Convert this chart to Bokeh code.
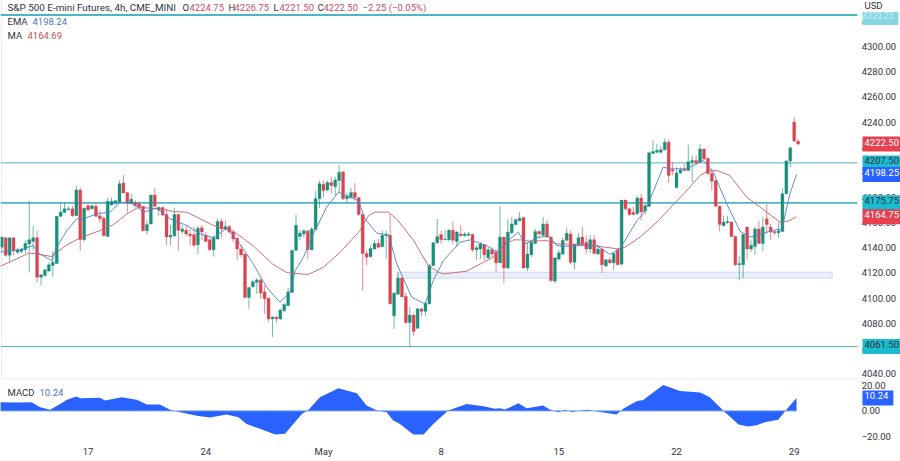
from bokeh.plotting import figure
from bokeh.models import ColumnDataSource, FixedTicker, Label, Span, BoxAnnotation
from bokeh.layouts import column
from bokeh.embed import file_html
from bokeh.resources import INLINE

candle_open = [
4140.5,4148,4134,4148,4136.5,4137,4138.5,4143,4145,4148,
4116.5,4118,4121.5,4126,4127.5,4165,4168,4170.5,4171,4165.5,
4186,4146.5,4173.5,4171,4173,4165.5,4163.5,4149,4174,4175.5,
4176,4191.5,4184,4175.5,4176,4175,4173,4153.5,4159,4182,
4170,4172,4166.5,4148.5,4149.5,4166.5,4153,4154,4151,4150.5,
4142.5,4156,4150,4146.5,4138.5,4147,4161,4155,4157,4152.5,
4147.5,4139,4135,4100.5,4109,4112.5,4114.5,4105,4100,4083.5,
4085,4083.5,4090,4094,4104.5,4138,4149,4151,4153.5,4138.5,
4154.5,4179,4190.5,4186,4192,4188.5,4193.5,4200.5,4179,4180,
4184,4180,4166.5,4135.5,4133,4139,4143.5,4141,4149.5,4150,
4086,4103,4116,4101.5,4080.5,4086.5,4076,4091.5,4089.5,4095.5,
4126,4144,4150.5,4146.5,4146.5,4154,4145,4151,4149.5,4150,
4150.5,4138.5,4139,4142.5,4132,4138.5,4136.5,4128,4148.5,4124,
4152,4158.5,4161.5,4164,4124,4134.5,4143.5,4153,4150,4159,
4148.5,4113.5,4131,4135,4146,4151,4128.5,4142.5,4148.5,4144.5,
4139,4146.5,4135,4139,4125.5,4130.5,4128,4138.5,4127,4178,
4171,4168,4167,4179.5,4169,4173,4215,4216,4216,4218,
4224,4202,4188,4199.5,4202.5,4201.5,4208,4209.5,4208,4218.5,
4211,4199,4193.5,4173,4157.5,4160,4160.5,4149,4126.5,4126.5,
4156.5,4139,4141,4155,4143.5,4163,4156.5,4153,4152,4153,
4183,4209,4240,4224.75]
candle_high = [
4148.5,4148,4148,4148,4140,4140,4146,4177.5,4157.5,4153.5,
4119,4123,4128.5,4137.5,4165,4176,4176,4173,4173.5,4189.5,
4188,4172,4175,4174.5,4176,4169.5,4165,4180,4180,4178,
4193.5,4198,4184,4183,4178,4177,4173,4161.5,4182,4187.5,
4173,4173,4171,4158,4172,4166.5,4158,4158,4155,4156.5,
4157,4158,4152.5,4148,4150,4163,4163,4161.5,4158,4154,
4149,4142,4135,4109,4114.5,4116,4115.5,4110,4100,4085.5,
4085.5,4091.5,4096,4108,4138,4166.5,4154,4155,4153.5,4156.5,
4185.5,4193.5,4193.5,4193.5,4196.5,4196.5,4206,4200.5,4184,4187.5,
4191.5,4180,4167,4138,4142,4146,4147,4153.5,4153.5,4167,
4104.5,4120.5,4116.5,4104.5,4093,4087.5,4092,4092,4097,4127,
4144.5,4163,4153.5,4154,4155,4161,4153.5,4158,4152.5,4152.5,
4151,4142,4144.5,4143,4140,4140.5,4139,4173,4148.5,4163,
4164.5,4163,4168.5,4164.5,4144.5,4146,4155,4154,4164.5,4162,
4149,4132.5,4138.5,4148,4156,4154,4143.5,4151.5,4156.5,4150,
4150,4150,4142.5,4139,4131,4132.5,4136.5,4139,4178,4178,
4172,4172.5,4181.5,4183,4175,4216,4225.5,4222.5,4221.5,4227,
4226,4208,4204,4204,4207,4222,4213.5,4213.5,4222.5,4218.5,
4212,4203,4194,4173.5,4165.5,4165.5,4161,4150,4134,4151,
4157,4146,4156.5,4161.5,4164.5,4175,4159,4153.5,4160.5,4187.5,
4209.5,4220.5,4244,4226.75]
candle_low = [
4136.5,4133,4128.5,4134,4135,4135.5,4135.5,4120.5,4138,4112.5,
4110,4117,4120.5,4117,4127,4164.5,4168,4169.5,4164.5,4165.5,
4137.5,4145,4169,4170.5,4164.5,4159.5,4149,4149,4173.5,4174.5,
4176,4183.5,4168.5,4175,4172,4171,4153,4150.5,4158.5,4172.5,
4165.5,4165,4142,4142,4148.5,4137.5,4151,4149,4142,4140.5,
4135,4146,4144.5,4137.5,4133,4146.5,4148,4154,4151,4144.5,
4130,4132.5,4100,4091.5,4108.5,4103.5,4099.5,4087.5,4081,4069,
4080,4082.5,4089,4094,4104,4137.5,4146,4148,4131,4138,
4154.5,4171.5,4180,4185,4183,4181.5,4184,4178,4176,4179,
4177.5,4165.5,4106,4126,4132,4138.5,4139.5,4140.5,4131,4095,
4075.5,4103,4100.5,4079.5,4061.5,4070,4075.5,4085.5,4086,4095,
4125.5,4143,4143,4146,4145,4143,4140.5,4149,4149,4149,
4136.5,4130.5,4131,4130,4131,4132.5,4120.5,4128,4112,4123,
4151,4158,4161,4123,4121.5,4132.5,4143,4148,4149,4148,
4112.5,4112,4130,4134.5,4145,4127,4123,4142,4142,4135,
4135.5,4134.5,4134.5,4120,4125,4127.5,4122,4126,4126,4170,
4165.5,4166,4166.5,4161.5,4167,4172.5,4214.5,4215,4215,4217.5,
4191.5,4197.5,4187,4198.5,4201,4201,4192,4206,4207.5,4209.5,
4197.5,4185.5,4172.5,4153,4157,4159,4148.5,4125.5,4114,4116,
4130.5,4136.5,4134.5,4143,4137.5,4151,4146.5,4150,4148,4152.5,
4182.5,4204,4224,4221.5]
candle_close = [
4148.5,4134,4148,4138,4138.5,4139,4143.5,4146.5,4148,4116.5,
4118.5,4122.5,4126.5,4128.5,4165,4168.5,4171,4171,4165.5,4186,
4146.5,4171.5,4170,4173.5,4165,4163,4149.5,4177,4177,4177.5,
4191,4183.5,4176,4178.5,4173.5,4172.5,4153.5,4158.5,4182,4173,
4172,4166,4148.5,4150,4166.5,4154,4155,4151,4149.5,4142,
4155.5,4152.5,4145,4138.5,4148,4161,4155,4157,4152.5,4147,
4139,4134.5,4100.5,4108.5,4113,4114.5,4104,4099.5,4083.5,4085,
4083.5,4090.5,4095,4105,4138,4158,4151.5,4153.5,4138.5,4155,
4179,4191,4185.5,4192,4189.5,4194,4200,4179,4181,4184,
4180,4166.5,4135.5,4132.5,4139.5,4143.5,4140.5,4150,4150.5,4095.5,
4104,4116,4101,4080.5,4086.5,4073.5,4091.5,4089.5,4096,4126,
4144,4149,4146.5,4147,4154,4146,4152.5,4149.5,4151,4151,
4138.5,4140,4143,4134.5,4138.5,4135,4128,4148.5,4124,4152.5,
4159,4162.5,4163.5,4124,4135,4144.5,4153,4151,4159,4148.5,
4114,4132,4136,4146,4151.5,4128.5,4143,4148,4143,4139,
4146.5,4135.5,4139,4126.5,4130.5,4128,4135.5,4126.5,4178,4171,
4166.5,4166.5,4179.5,4168.5,4173.5,4215.5,4216.5,4217.5,4218,4224,
4197.5,4201,4199.5,4202,4201.5,4208.5,4209.5,4207.5,4218.5,4210.5,
4199,4193,4173,4158.5,4160.5,4161,4149,4126.5,4127.5,4150.5,
4139,4142,4155,4143.5,4156.5,4158.5,4152.5,4152,4153.5,4183,
4209,4219.5,4225,4222.5]

ma_t = [-0.4,3.8,6.8,8.9,12.7,14,16.6,20,25,28.5,31.9,34.8,37,40.4,43.8,47.2,50.6,54,59,64,69,72.6,
        78,82,86.7,91.3,93.5,95.2,98.6,101,105,108.7,111.3,112.6,118.5,122,125.3,128,130.4,132.5,134.7,138.9,141.5,
        147.4,151.7,157,158.9,162.7,167,171,175,178,180,182.2,185.6,189.9,195,198.4,200.5,202.6]
ma_v = [4125.3,4131.2,4135.7,4135.2,4133,4136.5,4142.3,4147.9,4153.7,4158.5,4167,4172.2,4171.7,4171,4168.8,4168.3,4163,4157.7,4153.2,4141.8,4127.2,4120.3,
        4118.7,4124.5,4137.8,4153.7,4165.6,4168.5,4168.3,4161.7,4145.8,4125.9,4120.6,4119.2,4121.4,4127.2,4132.5,4141.8,4146.3,4146.3,4145.2,4145.8,4143.1,
        4142.6,4141.3,4139.2,4140.5,4148.5,4160.4,4173.6,4186.9,4197.5,4200.9,4201.5,4197.5,4180.3,4168.3,4160.4,4161.2,4164.69]
ema_t = [-0.4,4.7,8,9.6,12.7,14,16.6,19.1,20.8,24.2,27.6,30.2,33.6,36.1,39.5,42.9,47.2,50.6,54,57.4,60.7,64.1,67.5,70.9,73.5,74.8,76.9,
         79.4,82.8,85.8,90.9,92.6,95.6,98.6,100.7,104.5,107.9,110,112.6,116.8,119.4,123.6,126.2,129.6,131.7,133.4,136.4,139.3,141.5,144.9,
         147.4,151.7,155,157.6,161.9,163.5,164.8,168.6,170.3,174.6,178.8,181.4,184.8,188.2,190.7,194.1,198,198.8,200.9,202.6]
ema_v = [4136.5,4138.3,4141.8,4135.2,4129.9,4140.4,4153.7,4163,4163,4167,4168.3,4176.2,4174.9,4168.3,4171.7,4163,4157.7,4151,4147.9,4155.8,4143.1,4127.2,4108.7,4096.7,4104.7,4121.9,4132.5,
         4151,4172.2,4184.2,4177.5,4163,4151.6,4150.3,4127.2,4100.7,4095.4,4114,4129.9,4144.4,4146.3,4141.8,4136.5,4147,4152.4,4143.1,4147.9,4149.7,4141.8,4141,
         4141.8,4141.8,4134.7,4139.2,4161.7,4167,4175,4204.1,4202.8,4202.8,4209.4,4200.1,4175,4153.2,4148.5,4151.6,4155,4153.8,4182.9,4198.24]
macd_t = [-0.4,3.8,7.6,9.8,12.3,14.9,16.6,19,20,25,26.3,30.6,34.4,37,40.3,42.9,45.5,49.7,53.1,57.3,60.3,62.4,65.8,69.7,72.2,74.3,76.5,78.2,81.1,85.8,90.5,93,95.6,98.1,99.8,101.5,104.9,107.5,110,113.8,
          118.5,122.8,125.7,127,128.3,131.7,133.8,138,139.8,141.9,143.6,145.3,149.1,152.5,156.7,158.4,161.8,163.5,168.6,172.9,178,180.5,183.9,187.8,190.3,192.4,194.5,197.9,200,202.6]
macd_v = [6.8,6.6,6.8,2.9,0.8,5.5,8.9,11.3,10,10.3,8.2,10.8,8.9,5,5,0.8,-1.1,-3.9,-5.3,-2.9,-5,-10.3,-14.2,-18.7,-18.1,-10.3,-2.4,0.8,10.8,17.9,13.9,4.2,0.3,-1.1,-7.6,-10.3,-18.7,-18.7,-10.3,0.3,
          5.5,3.7,1.6,2.1,1.1,6,2.1,4.2,0.8,-1.1,0.8,-0.8,0.8,-0.8,-2.9,1.6,7.6,8.7,20.5,15.8,14.5,10.8,0.3,-10.8,-12.4,-11.3,-8.9,-7.1,0.8,10.24]

price_ticks = [4040,4060,4080,4100,4120,4140,4160,4180,4200,4220,4240,4260,4280,4300,4320]
macd_ticks = [-20,0,20]
date_ticks = [22,52,82,112,142,172,202]
date_labels = ["17","24","May","8","15","22","29"]
level_lines = [4325,4207.5,4175.75,4061.5]
level_widths = [2,1,1.6,1]
zone_top, zone_bottom = 4120.6, 4115.8
zone_start, zone_end = 100.9, 211.7

UP, DOWN = "#1a8f79", "#db4350"
TEAL = "#4cb6c2"
FONT = "Roboto"
TXT = "#2f333d"
X0, X_PANE, X_LABELS, X1 = -0.33, 218.1, 219.2, 229.1

n = len(candle_close)
t = list(range(n))
src = ColumnDataSource(dict(
    t=t, o=candle_open, h=candle_high, l=candle_low, c=candle_close,
    top=[max(a, b) for a, b in zip(candle_open, candle_close)],
    bot=[min(a, b) for a, b in zip(candle_open, candle_close)],
    col=[UP if b >= a else DOWN for a, b in zip(candle_open, candle_close)],
))

def base(height, ticks, overrides, **kw):
    f = figure(width=900, height=height, output_backend="svg", toolbar_location=None,
               x_range=(X0, X1), y_axis_location="right", min_border=0, **kw)
    f.grid.visible = False
    f.outline_line_color = None
    ax = f.yaxis[0]
    ax.fixed_location = X_LABELS
    ax.ticker = FixedTicker(ticks=ticks)
    ax.major_label_overrides = overrides
    ax.axis_line_color = None
    ax.major_tick_line_color = None
    ax.minor_tick_line_color = None
    ax.major_tick_in = 0
    ax.major_tick_out = 0
    ax.minor_tick_in = 0
    ax.minor_tick_out = 0
    ax.major_label_text_font = FONT
    ax.major_label_text_font_size = "9.5px"
    ax.major_label_text_color = TXT
    ax.major_label_standoff = 0
    return f

main = base(378, price_ticks, {v: f"{v:.2f}" for v in price_ticks}, y_range=(4036.1, 4336.6))
main.xaxis.visible = False

main.add_layout(BoxAnnotation(left=zone_start, right=zone_end, top=zone_top, bottom=zone_bottom,
                              fill_color="#eaf0fb", fill_alpha=1, line_color="#7f8fc8", line_width=1, level="underlay"))
main.segment([X0]*len(level_lines), level_lines, [X_PANE]*len(level_lines), level_lines,
             line_color=TEAL, line_width=level_widths)
main.add_layout(Span(location=X0 + 0.2, dimension="height", line_color="#e6e8ee", line_width=1, level="underlay"))

main.segment("t", "h", "t", "l", source=src, line_color="col", line_width=0.9, line_alpha=0.7)
main.vbar("t", 0.76, "top", "bot", source=src, fill_color="col", line_color="col", line_width=0.3)
main.line(ma_t, ma_v, line_color="#c9616c", line_width=1, line_alpha=0.9)
main.line(ema_t, ema_v, line_color="#4f7fc9", line_width=1, line_alpha=0.9)

def tag(f, value, text, bg, fg, size="9.5px", pad=(2, 5, 2, 6)):
    f.add_layout(Label(x=862, y=value, x_units="screen", y_units="data", text=text,
                       text_font=FONT, text_font_size=size, text_color=fg,
                       text_align="left", text_baseline="middle",
                       background_fill_color=bg, padding=pad))

def legend(f, x, y, text, color, size="9.5px"):
    f.add_layout(Label(x=x, y=y, x_units="screen", y_units="screen", text=text,
                       text_font=FONT, text_font_size=size, text_color=color,
                       text_align="left", text_baseline="middle"))

tag(main, 4322.3, "4329.25", "#86d7e2", "#c9eef3", size="8.5px", pad=(0, 5, 0, 6))
tag(main, 4222.5, "4222.50", "#e8404f", "#ffffff")
tag(main, 4207.5, "4207.50", "#19bcd0", "#2a2e39")
tag(main, 4198.25, "4198.25", "#2962ff", "#ffffff")
tag(main, 4175.75, "4175.75", "#19bcd0", "#2a2e39")
tag(main, 4164.75, "4164.75", "#e8404f", "#ffffff")
tag(main, 4061.5, "4061.50", "#19bcd0", "#2a2e39")

H = 378
RED = "#c7505f"
legend(main, 7, H-7, "S&P 500 E-mini Futures, 4h, CME_MINI", TXT, size="9.9px")
legend(main, 182, H-7, "O", TXT); legend(main, 189, H-7, "4224.75", RED)
legend(main, 228, H-7, "H", TXT); legend(main, 234, H-7, "4226.75", RED)
legend(main, 273, H-7, "L", TXT); legend(main, 279, H-7, "4221.50", RED)
legend(main, 317, H-7, "C", TXT); legend(main, 323, H-7, "4222.50", RED)
legend(main, 362, H-7, "\u22122.25 (\u22120.05%)", RED)
legend(main, 7, H-21, "EMA", TXT); legend(main, 32, H-21, "4198.24", "#4a78c0")
legend(main, 7, H-35, "MA", TXT); legend(main, 27, H-35, "4164.69", RED)
legend(main, 864, H-5, "USD", TXT)

macd = base(83, macd_ticks, {20: "20.00", 0: "0.00", -20: "\u221220.00"}, y_range=(-24.2, 25.6))
xa = macd.xaxis[0]
xa.ticker = FixedTicker(ticks=date_ticks)
xa.major_label_overrides = dict(zip(date_ticks, date_labels))
xa.axis_line_color = None
xa.major_tick_line_color = None
xa.minor_tick_line_color = None
xa.major_tick_in = 0
xa.major_tick_out = 0
xa.minor_tick_in = 0
xa.minor_tick_out = 0
xa.major_label_text_font = FONT
xa.major_label_text_font_size = "9.5px"
xa.major_label_text_color = TXT
xa.major_label_standoff = 4
macd.min_border_bottom = 20

macd.varea(macd_t, [0]*len(macd_t), macd_v, fill_color="#2962ff")
macd.line([macd_t[0], macd_t[-1]], [0, 0], line_color="#6f9be8", line_width=1)
macd.segment([X0], [25.5], [X_PANE], [25.5], line_color="#e4e6ec", line_width=1)
macd.add_layout(Label(x=862, y=macd_v[-1], x_units="screen", text="10.24", text_font=FONT, text_font_size="9.5px",
                      text_color="#ffffff", text_baseline="middle", background_fill_color="#2962ff", padding=(2, 5, 2, 6)))
legend(macd, 7, 63-14, "MACD", TXT)
legend(macd, 39, 63-14, "10.24", "#4a78c0")

p = column(main, macd, spacing=0, styles={"position": "absolute", "left": "0px", "top": "0px"})
open("out.html", "w").write(file_html(p, INLINE))
